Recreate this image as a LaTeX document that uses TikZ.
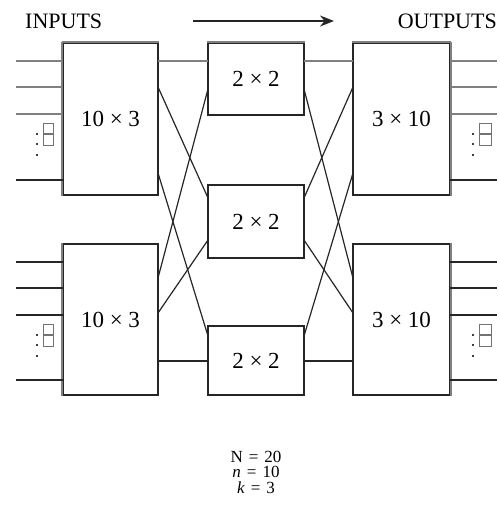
\documentclass[tikz,border=0pt]{standalone}
\usepackage{fontspec}
\setmainfont{Liberation Serif}
\usetikzlibrary{arrows.meta}
\begin{document}
\begin{tikzpicture}[x=1pt,y=-1pt,
  wire/.style={draw=black!85,line width=1.2pt},
  grayline/.style={draw=black!50,line width=1.9pt},
  box/.style={draw=black!85,line width=1.2pt,fill=white,inner sep=0pt,font=\fontsize{23}{24}\selectfont},
  lbl/.style={inner sep=0pt,font=\fontsize{22}{24}\selectfont},
  dotsq/.style={fill=black!75,minimum size=2.2pt,inner sep=0pt},
  glyph/.style={draw=black!55,line width=0.8pt}]
\useasboundingbox (0,0) rectangle (499,514);
% boxes
\node[box,minimum width=95pt,minimum height=152pt] (L1) at (110.5,119) {10 × 3};
\node[box,minimum width=95pt,minimum height=151pt] (L2) at (110.5,319.5) {10 × 3};
\node[box,minimum width=96pt,minimum height=72pt] (M1) at (256,79) {2 × 2};
\node[box,minimum width=96pt,minimum height=73pt] (M2) at (256,221.5) {2 × 2};
\node[box,minimum width=96pt,minimum height=69pt] (M3) at (256,360.5) {2 × 2};
\node[box,minimum width=97pt,minimum height=152pt] (R1) at (401.5,119) {3 × 10};
\node[box,minimum width=97pt,minimum height=151pt] (R2) at (401.5,319.5) {3 × 10};
% gray edges
\draw[grayline] (L1.north west) -- (L1.north east);
\draw[grayline] (M1.north west) -- (M1.north east);
\draw[grayline] (R1.north west) -- (R1.north east);
\draw[grayline] (L1.north west) -- (L1.south west);
\draw[grayline] (L2.north west) -- (L2.south west);
\draw[grayline] (R1.north east) -- (R1.south east);
\draw[grayline] (R2.north east) -- (R2.south east);
% ports
\foreach \n/\y in {a/61,b/87,c/173,d/278,e/313,f/361} {
  \coordinate (Lo\n) at (158,\y);
  \coordinate (Ri\n) at (353,\y);
}
\foreach \n/\y in {a/61,b/89,c/198,d/240,e/336,f/361} {
  \coordinate (Mi\n) at (208,\y);
  \coordinate (Mo\n) at (304,\y);
}
% left-middle connections
\draw[grayline] (Loa) -- (Mia);
\draw[wire] (Lob) -- (Mic);
\draw[wire] (Loc) -- (Mie);
\draw[wire] (Lod) -- (Mib);
\draw[wire] (Loe) -- (Mid);
\draw[wire] (Lof) -- (Mif);
% middle-right connections
\draw[grayline] (Moa) -- (Ria);
\draw[wire] (Moc) -- (Rib);
\draw[wire] (Moe) -- (Ric);
\draw[wire] (Mob) -- (Rid);
\draw[wire] (Mod) -- (Rie);
\draw[wire] (Mof) -- (Rif);
% inputs and outputs
\foreach \y/\s in {61/grayline,87/grayline,114/grayline,180/wire,262/wire,288/wire,315/wire,380/wire} {
  \coordinate (in\y) at (16,\y);
  \coordinate (inb\y) at (63,\y);
  \coordinate (out\y) at (497,\y);
  \coordinate (outb\y) at (450,\y);
  \draw[\s] (in\y) -- (inb\y);
  \draw[\s] (outb\y) -- (out\y);
}
% dots glyphs
\foreach \dy in {0,201} {
  \foreach \yy in {134,144,155} {
    \node[dotsq] (ld\dy\yy) at (37,\yy+\dy) {};
    \node[dotsq] (rd\dy\yy) at (473,\yy+\dy) {};
  }
  \draw[glyph] (43,123+\dy) rectangle (53,145+\dy);
  \draw[glyph,line width=1.2pt] (43,134+\dy) -- (53,134+\dy);
  \draw[glyph] (479,123+\dy) rectangle (491,145+\dy);
  \draw[glyph,line width=1.2pt] (479,134+\dy) -- (491,134+\dy);
}
% labels
\node[lbl,anchor=west] (inputs) at (25,21) {INPUTS};
\node[lbl,anchor=east] (outputs) at (497,21) {OUTPUTS};
\coordinate (arrS) at (193,21);
\coordinate (arrE) at (334,21);
\draw[draw=black!85,line width=1.5pt,-{Stealth[length=14pt,width=11pt]}] (arrS) -- (arrE);
\node[inner sep=0pt,align=center,font=\fontsize{17}{15.5}\selectfont] (params) at (256,472)
  {N\hspace{6pt}=\hspace{6pt}20\\\textit{n}\hspace{6pt}=\hspace{6pt}10\\\textit{k}\hspace{6pt}=\hspace{6pt}3};
\end{tikzpicture}
\end{document}
